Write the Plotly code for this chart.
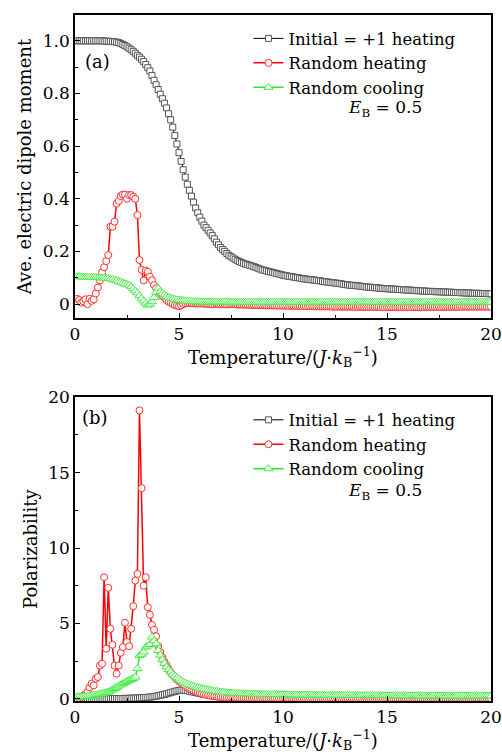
import plotly.graph_objects as go

# Temperature grid (J/k_B): first point and step
T_START = 0.1
T_STEP = 0.1

# ---------------- Panel (a): average electric dipole moment ----------------
dip_initial_heating = [
    1.0, 1.0, 1.0, 1.0, 1.0, 1.0, 1.0, 1.0, 1.0, 1.0,
    1.0, 1.0, 1.0, 0.999, 0.999, 0.998, 0.998, 0.997, 0.996, 0.995,
    0.993, 0.990, 0.986, 0.982, 0.977, 0.972, 0.966, 0.960, 0.953, 0.945,
    0.938, 0.930, 0.921, 0.910, 0.898, 0.885, 0.868, 0.850, 0.833, 0.815,
    0.797, 0.780, 0.763, 0.745, 0.723, 0.700, 0.672, 0.640, 0.608, 0.575,
    0.542, 0.510, 0.482, 0.455, 0.432, 0.410, 0.387, 0.365, 0.347, 0.330,
    0.315, 0.300, 0.290, 0.280, 0.270, 0.260, 0.248, 0.235, 0.225, 0.215,
    0.207, 0.200, 0.192, 0.185, 0.180, 0.175, 0.170, 0.165, 0.161, 0.158,
    0.155, 0.152, 0.150, 0.147, 0.145, 0.142, 0.139, 0.136, 0.133, 0.130,
    0.128, 0.126, 0.124, 0.122, 0.120, 0.118, 0.116, 0.114, 0.112, 0.110,
    0.108, 0.107, 0.105, 0.104, 0.103, 0.101, 0.100, 0.099, 0.097, 0.096,
    0.095, 0.094, 0.093, 0.092, 0.091, 0.090, 0.089, 0.088, 0.086, 0.085,
    0.084, 0.083, 0.082, 0.081, 0.080, 0.079, 0.078, 0.077, 0.075, 0.074,
    0.073, 0.072, 0.071, 0.071, 0.070, 0.069, 0.068, 0.067, 0.066, 0.065,
    0.064, 0.064, 0.063, 0.062, 0.062, 0.061, 0.060, 0.059, 0.059, 0.058,
    0.058, 0.057, 0.057, 0.056, 0.056, 0.055, 0.055, 0.054, 0.054, 0.053,
    0.053, 0.052, 0.052, 0.051, 0.051, 0.050, 0.050, 0.049, 0.049, 0.048,
    0.048, 0.048, 0.047, 0.047, 0.047, 0.046, 0.046, 0.046, 0.045, 0.045,
    0.045, 0.044, 0.044, 0.044, 0.043, 0.043, 0.043, 0.042, 0.042, 0.042,
    0.041, 0.041, 0.041, 0.041, 0.040, 0.040, 0.040, 0.040, 0.039, 0.039,
]
dip_random_heating = [
    0.020, 0.015, 0.005, 0.010, 0.018, 0.000, 0.020, 0.012, 0.018, 0.040,
    0.063, 0.090, 0.120, 0.140, 0.163, 0.186, 0.294, 0.294, 0.313, 0.382,
    0.392, 0.410, 0.416, 0.416, 0.400, 0.414, 0.414, 0.408, 0.400, 0.338,
    0.167, 0.130, 0.090, 0.127, 0.123, 0.104, 0.090, 0.072, 0.060, 0.047,
    0.040, 0.030, 0.025, 0.015, 0.009, 0.005, 0.000, -0.004, -0.006, -0.008,
    -0.005, 0.000, 0.003, 0.004, 0.004, 0.003, 0.003, 0.002, 0.002, 0.002,
    0.002, 0.001, 0.001, 0.000, 0.000, -0.001, 0.000, 0.001, 0.000, 0.000,
    0.000, -0.001, -0.001, 0.000, 0.000, 0.000, -0.001, -0.002, -0.002, -0.002,
    -0.002, -0.002, -0.003, -0.003, -0.003, -0.003, -0.004, -0.004, -0.004, -0.004,
    -0.004, -0.005, -0.005, -0.005, -0.005, -0.005, -0.006, -0.006, -0.006, -0.006,
    -0.006, -0.006, -0.007, -0.007, -0.007, -0.007, -0.007, -0.007, -0.008, -0.008,
    -0.008, -0.008, -0.008, -0.008, -0.008, -0.009, -0.009, -0.009, -0.009, -0.009,
    -0.009, -0.009, -0.009, -0.010, -0.010, -0.010, -0.010, -0.010, -0.010, -0.010,
    -0.010, -0.010, -0.010, -0.010, -0.011, -0.011, -0.011, -0.011, -0.011, -0.011,
    -0.011, -0.011, -0.011, -0.011, -0.011, -0.011, -0.012, -0.012, -0.012, -0.012,
    -0.012, -0.012, -0.012, -0.012, -0.012, -0.012, -0.012, -0.012, -0.012, -0.012,
    -0.012, -0.012, -0.012, -0.012, -0.012, -0.012, -0.012, -0.011, -0.011, -0.011,
    -0.011, -0.011, -0.011, -0.011, -0.011, -0.011, -0.011, -0.011, -0.011, -0.011,
    -0.011, -0.011, -0.011, -0.011, -0.010, -0.010, -0.010, -0.010, -0.010, -0.010,
    -0.010, -0.010, -0.010, -0.010, -0.010, -0.010, -0.010, -0.010, -0.010, -0.010,
]
dip_random_cooling = [
    0.104, 0.104, 0.103, 0.103, 0.103, 0.102, 0.102, 0.102, 0.101, 0.101,
    0.100, 0.100, 0.099, 0.099, 0.098, 0.097, 0.095, 0.094, 0.092, 0.089,
    0.086, 0.083, 0.080, 0.077, 0.075, 0.072, 0.066, 0.058, 0.050, 0.042,
    0.032, 0.022, 0.012, 0.003, -0.004, 0.000, 0.009, 0.025, 0.045, 0.060,
    0.047, 0.040, 0.035, 0.030, 0.026, 0.022, 0.020, 0.018, 0.016, 0.015,
    0.014, 0.013, 0.012, 0.011, 0.010, 0.010, 0.009, 0.009, 0.009, 0.008,
    0.008, 0.008, 0.008, 0.008, 0.008, 0.008, 0.008, 0.008, 0.008, 0.008,
    0.008, 0.008, 0.008, 0.007, 0.007, 0.007, 0.007, 0.007, 0.007, 0.007,
    0.007, 0.007, 0.007, 0.007, 0.007, 0.007, 0.007, 0.007, 0.007, 0.007,
    0.007, 0.007, 0.007, 0.007, 0.007, 0.007, 0.007, 0.007, 0.007, 0.007,
    0.007, 0.007, 0.007, 0.007, 0.007, 0.007, 0.007, 0.007, 0.007, 0.007,
    0.007, 0.007, 0.007, 0.007, 0.007, 0.007, 0.007, 0.007, 0.007, 0.007,
    0.007, 0.007, 0.007, 0.007, 0.007, 0.007, 0.007, 0.007, 0.007, 0.007,
    0.007, 0.007, 0.007, 0.007, 0.007, 0.007, 0.007, 0.007, 0.007, 0.007,
    0.007, 0.007, 0.007, 0.007, 0.007, 0.007, 0.007, 0.007, 0.007, 0.007,
    0.007, 0.007, 0.007, 0.007, 0.007, 0.007, 0.007, 0.007, 0.007, 0.007,
    0.007, 0.007, 0.007, 0.007, 0.007, 0.007, 0.007, 0.007, 0.007, 0.007,
    0.007, 0.007, 0.007, 0.007, 0.007, 0.007, 0.007, 0.007, 0.007, 0.007,
    0.007, 0.007, 0.007, 0.007, 0.007, 0.007, 0.007, 0.007, 0.007, 0.007,
    0.007, 0.007, 0.007, 0.007, 0.007, 0.007, 0.007, 0.007, 0.007, 0.007,
]

# ---------------- Panel (b): polarizability ----------------
pol_initial_heating = [
    0.0, 0.0, 0.0, 0.0, 0.0, 0.0, 0.0, 0.0, 0.0, 0.0,
    0.0, 0.0, 0.0, 0.0, 0.0, 0.002, 0.004, 0.006, 0.008, 0.010,
    0.013, 0.016, 0.019, 0.022, 0.026, 0.030, 0.035, 0.040, 0.046, 0.053,
    0.060, 0.068, 0.077, 0.087, 0.098, 0.110, 0.125, 0.145, 0.170, 0.200,
    0.230, 0.260, 0.290, 0.330, 0.370, 0.410, 0.450, 0.490, 0.520, 0.550,
    0.560, 0.560, 0.550, 0.530, 0.500, 0.470, 0.440, 0.410, 0.380, 0.350,
    0.320, 0.290, 0.270, 0.250, 0.230, 0.210, 0.190, 0.170, 0.155, 0.140,
    0.125, 0.115, 0.105, 0.095, 0.087, 0.080, 0.074, 0.068, 0.063, 0.058,
    0.054, 0.052, 0.050, 0.048, 0.046, 0.045, 0.044, 0.042, 0.041, 0.040,
    0.039, 0.038, 0.037, 0.036, 0.035, 0.035, 0.034, 0.033, 0.033, 0.032,
    0.031, 0.031, 0.030, 0.030, 0.029, 0.029, 0.028, 0.028, 0.027, 0.027,
    0.026, 0.026, 0.025, 0.025, 0.025, 0.024, 0.024, 0.023, 0.023, 0.023,
    0.022, 0.022, 0.022, 0.021, 0.021, 0.021, 0.020, 0.020, 0.020, 0.019,
    0.019, 0.019, 0.018, 0.018, 0.018, 0.018, 0.017, 0.017, 0.017, 0.017,
    0.016, 0.016, 0.016, 0.016, 0.015, 0.015, 0.015, 0.015, 0.015, 0.014,
    0.014, 0.014, 0.014, 0.014, 0.013, 0.013, 0.013, 0.013, 0.013, 0.013,
    0.012, 0.012, 0.012, 0.012, 0.012, 0.012, 0.012, 0.011, 0.011, 0.011,
    0.011, 0.011, 0.011, 0.011, 0.011, 0.010, 0.010, 0.010, 0.010, 0.010,
    0.010, 0.010, 0.010, 0.010, 0.010, 0.009, 0.009, 0.009, 0.009, 0.009,
    0.009, 0.009, 0.009, 0.009, 0.009, 0.009, 0.008, 0.008, 0.008, 0.008,
]
pol_random_heating = [
    0.02, 0.05, 0.10, 0.20, 0.30, 0.45, 0.75, 1.00, 0.89, 1.33,
    1.44, 2.20, 2.32, 8.06, 3.32, 7.36, 4.64, 3.58, 2.20, 1.66,
    2.20, 3.05, 3.43, 5.04, 3.76, 3.49, 4.64, 6.14, 7.84, 8.28,
    19.13, 13.97, 7.50, 8.06, 6.07, 5.57, 4.90, 4.57, 4.15, 3.50,
    3.10, 2.75, 2.45, 2.20, 1.95, 1.75, 1.57, 1.42, 1.28, 1.15,
    1.04, 0.94, 0.85, 0.76, 0.68, 0.61, 0.54, 0.48, 0.43, 0.38,
    0.34, 0.30, 0.27, 0.24, 0.21, 0.19, 0.17, 0.15, 0.13, 0.12,
    0.11, 0.10, 0.09, 0.08, 0.075, 0.070, 0.065, 0.060, 0.055, 0.050,
    0.050, 0.049, 0.048, 0.047, 0.046, 0.045, 0.045, 0.044, 0.043, 0.043,
    0.042, 0.042, 0.041, 0.041, 0.040, 0.040, 0.039, 0.039, 0.038, 0.038,
    0.038, 0.037, 0.037, 0.037, 0.036, 0.036, 0.036, 0.035, 0.035, 0.035,
    0.035, 0.034, 0.034, 0.034, 0.034, 0.033, 0.033, 0.033, 0.033, 0.033,
    0.032, 0.032, 0.032, 0.032, 0.032, 0.032, 0.031, 0.031, 0.031, 0.031,
    0.031, 0.031, 0.031, 0.030, 0.030, 0.030, 0.030, 0.030, 0.030, 0.030,
    0.030, 0.030, 0.030, 0.030, 0.030, 0.030, 0.030, 0.030, 0.030, 0.030,
    0.030, 0.030, 0.030, 0.030, 0.030, 0.030, 0.030, 0.030, 0.030, 0.030,
    0.030, 0.030, 0.030, 0.030, 0.030, 0.030, 0.030, 0.030, 0.030, 0.030,
    0.030, 0.030, 0.030, 0.030, 0.030, 0.030, 0.030, 0.030, 0.030, 0.030,
    0.030, 0.030, 0.030, 0.030, 0.030, 0.030, 0.030, 0.030, 0.030, 0.030,
    0.030, 0.030, 0.030, 0.030, 0.030, 0.030, 0.030, 0.030, 0.030, 0.030,
]
pol_random_cooling = [
    0.12, 0.12, 0.13, 0.14, 0.15, 0.16, 0.18, 0.20, 0.22, 0.25,
    0.28, 0.31, 0.34, 0.37, 0.40, 0.45, 0.52, 0.60, 0.68, 0.76,
    0.84, 0.92, 1.00, 1.08, 1.15, 1.22, 1.28, 1.34, 1.44, 2.00,
    2.87, 2.95, 3.10, 3.43, 3.50, 3.60, 4.09, 3.85, 3.65, 3.20,
    2.90, 2.60, 2.35, 2.10, 1.93, 1.78, 1.62, 1.50, 1.40, 1.30,
    1.20, 1.11, 1.04, 0.98, 0.92, 0.87, 0.82, 0.78, 0.74, 0.70,
    0.67, 0.64, 0.61, 0.58, 0.55, 0.53, 0.51, 0.49, 0.47, 0.45,
    0.43, 0.42, 0.40, 0.39, 0.38, 0.37, 0.36, 0.35, 0.34, 0.34,
    0.33, 0.33, 0.32, 0.32, 0.31, 0.31, 0.30, 0.30, 0.30, 0.29,
    0.29, 0.29, 0.28, 0.28, 0.28, 0.28, 0.27, 0.27, 0.27, 0.27,
    0.26, 0.26, 0.26, 0.26, 0.26, 0.25, 0.25, 0.25, 0.25, 0.25,
    0.25, 0.24, 0.24, 0.24, 0.24, 0.24, 0.24, 0.24, 0.23, 0.23,
    0.23, 0.23, 0.23, 0.23, 0.23, 0.23, 0.22, 0.22, 0.22, 0.22,
    0.22, 0.22, 0.22, 0.22, 0.22, 0.22, 0.21, 0.21, 0.21, 0.21,
    0.21, 0.21, 0.21, 0.21, 0.21, 0.21, 0.21, 0.21, 0.20, 0.20,
    0.20, 0.20, 0.20, 0.20, 0.20, 0.20, 0.20, 0.20, 0.20, 0.20,
    0.20, 0.20, 0.20, 0.20, 0.20, 0.19, 0.19, 0.19, 0.19, 0.19,
    0.19, 0.19, 0.19, 0.19, 0.19, 0.19, 0.19, 0.19, 0.19, 0.19,
    0.19, 0.19, 0.19, 0.19, 0.19, 0.19, 0.19, 0.19, 0.19, 0.19,
    0.19, 0.19, 0.19, 0.19, 0.19, 0.19, 0.19, 0.19, 0.19, 0.19,
]

series_names = ["Initial = +1 heating", "Random heating", "Random cooling"]
x_tick_vals = [0, 5, 10, 15, 20]
x_tick_text = ["0", "5", "10", "15", "20"]
ya_tick_vals = [0, 0.2, 0.4, 0.6, 0.8, 1.0]
ya_tick_text = ["0", "0.2", "0.4", "0.6", "0.8", "1.0"]
yb_tick_vals = [0, 5, 10, 15, 20]
yb_tick_text = ["0", "5", "10", "15", "20"]

FONT = "DejaVu Serif"
styles = [
    dict(line=dict(color="#000000", width=1),
         marker=dict(symbol="square", size=6, color="white",
                     line=dict(color="#555555", width=1))),
    dict(line=dict(color="#FF0000", width=1.5),
         marker=dict(symbol="circle", size=7, color="white",
                     line=dict(color="#FF3030", width=1))),
    dict(line=dict(color="#22EE22", width=1.5),
         marker=dict(symbol="triangle-up", size=8, color="white",
                     line=dict(color="#44EE44", width=1))),
]

fig = go.Figure()
panels = [
    ("x", "y", "legend", [dip_initial_heating, dip_random_heating, dip_random_cooling]),
    ("x2", "y2", "legend2", [pol_initial_heating, pol_random_heating, pol_random_cooling]),
]
for xa, ya, lg, data in panels:
    for name, vals, st in zip(series_names, data, styles):
        fig.add_trace(go.Scatter(
            y=vals, x0=T_START, dx=T_STEP, mode="lines+markers", name=name,
            xaxis=xa, yaxis=ya, legend=lg, line=st["line"], marker=st["marker"],
        ))

axis_common = dict(showline=True, linecolor="black", linewidth=1.5, mirror=True,
                   ticks="inside", ticklen=5, tickwidth=1, tickcolor="black",
                   showgrid=False, zeroline=False, automargin=False,
                   tickfont=dict(family=FONT, size=17, color="black"))
x_title = "Temperature/(<i>J</i>·<i>k</i><sub>B</sub><sup>−1</sup>)"
TITLE_FONT = dict(family=FONT, size=18, color="black")
LEGEND_FONT = dict(family=FONT, size=16.5, color="black")

fig.update_layout(
    width=502, height=756,
    margin=dict(l=75, r=11, t=15, b=55, autoexpand=False),
    paper_bgcolor="white", plot_bgcolor="white",
    font=dict(family=FONT, size=16, color="black"),
    xaxis=dict(axis_common, domain=[0, 1], anchor="y", range=[0, 20],
               tickvals=x_tick_vals, ticktext=x_tick_text,
               minor=dict(dtick=2.5, ticks="inside", ticklen=3, tickcolor="black"),
               title=dict(text=x_title, font=TITLE_FONT, standoff=4)),
    yaxis=dict(axis_common, domain=[0.5583, 1.0], anchor="x", range=[-0.053, 1.098],
               tickvals=ya_tick_vals, ticktext=ya_tick_text,
               minor=dict(dtick=0.1, ticks="inside", ticklen=3, tickcolor="black"),
               title=dict(text="Ave. electric dipole moment", font=TITLE_FONT, standoff=6)),
    xaxis2=dict(axis_common, domain=[0, 1], anchor="y2", range=[0, 20],
                tickvals=x_tick_vals, ticktext=x_tick_text,
                minor=dict(dtick=2.5, ticks="inside", ticklen=3, tickcolor="black"),
                title=dict(text=x_title, font=TITLE_FONT, standoff=4)),
    yaxis2=dict(axis_common, domain=[0.0, 0.4427], anchor="x2", range=[-0.15, 20],
                tickvals=yb_tick_vals, ticktext=yb_tick_text,
                minor=dict(dtick=2.5, ticks="inside", ticklen=3, tickcolor="black"),
                title=dict(text="Polarizability", font=TITLE_FONT, standoff=6)),
    legend=dict(x=0.417, y=0.991, xanchor="left", yanchor="top",
                bgcolor="rgba(0,0,0,0)", font=LEGEND_FONT,
                tracegroupgap=0, itemwidth=30),
    legend2=dict(x=0.417, y=0.435, xanchor="left", yanchor="top",
                 bgcolor="rgba(0,0,0,0)", font=LEGEND_FONT,
                 tracegroupgap=0, itemwidth=30),
    annotations=[
        dict(text="(a)", xref="x domain", yref="y domain", x=0.053, y=0.845,
             xanchor="center", yanchor="middle",
             showarrow=False, font=dict(family=FONT, size=18)),
        dict(text="(b)", xref="x2 domain", yref="y2 domain", x=0.048, y=0.934,
             xanchor="center", yanchor="middle",
             showarrow=False, font=dict(family=FONT, size=18)),
        dict(text="<i>E</i><sub>B</sub> = 0.5", xref="x domain", yref="y domain",
             x=0.745, y=0.69, xanchor="center", yanchor="middle",
             showarrow=False, font=dict(family=FONT, size=17)),
        dict(text="<i>E</i><sub>B</sub> = 0.5", xref="x2 domain", yref="y2 domain",
             x=0.745, y=0.69, xanchor="center", yanchor="middle",
             showarrow=False, font=dict(family=FONT, size=17)),
    ],
)

fig.write_html(
    "out.html",
    config={"displayModeBar": False},
    post_script="document.body.style.margin='0';document.body.style.overflow='hidden';",
)
